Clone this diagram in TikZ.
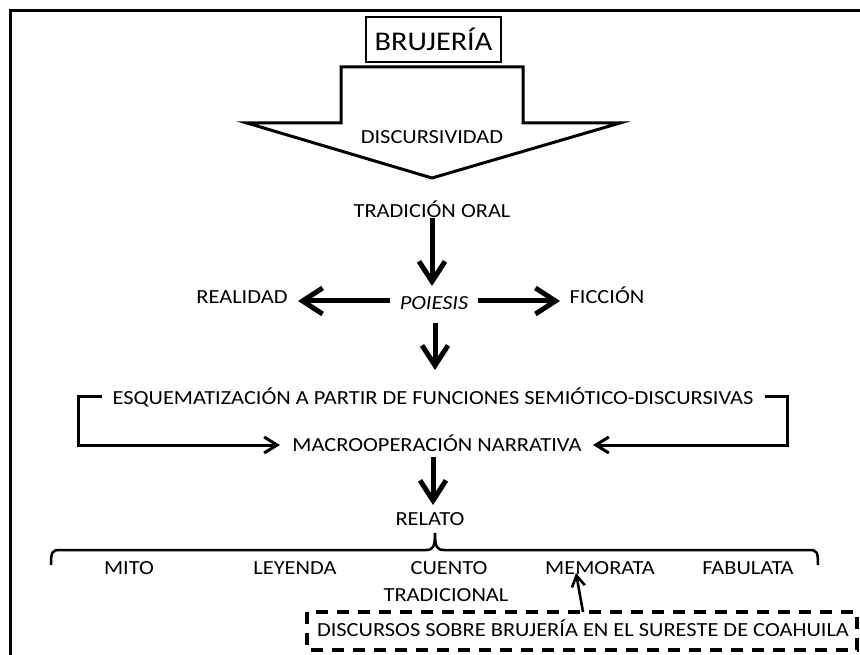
\documentclass[tikz,border=0pt]{standalone}
\usepackage{fontspec}
\setmainfont{Carlito}[FakeStretch=1.12]
\usetikzlibrary{arrows.meta}
\begin{document}
\begin{tikzpicture}[x=1pt,y=-1pt,
  txt/.style={inner sep=0pt, anchor=base, font=\fontsize{20}{24}\selectfont},
  bigarrow/.style={line width=5pt, -{Straight Barb[length=20pt,width=26pt]}},
  medarrow/.style={line width=3pt, -{Straight Barb[length=13pt,width=16pt]}},
  smallarrow/.style={line width=2.6pt, -{Straight Barb[length=11pt,width=13pt]}},
  thickline/.style={line width=3pt}
]
\useasboundingbox (0,0) rectangle (860,655);
% frame
\draw[thickline] (10.5,660) -- (10.5,10.5) -- (865,10.5);
% BRUJERIA box
\node[draw, line width=1.8pt, minimum width=135pt, minimum height=45pt, inner sep=0pt,
  font=\fontsize{27}{30}\selectfont] (bru) at (433.5,39.5) {BRUJERÍA};
% big block arrow
\draw[thickline, line join=miter] (341,67) -- (523,67) -- (523,123) -- (620,123) -- (432,178) -- (247,123) -- (341,123) -- cycle;
\node[txt] (disc) at (432,144) {DISCURSIVIDAD};
% texts
\node[txt] (trad) at (432,218) {TRADICIÓN ORAL};
\node[txt, font=\fontsize{20}{24}\selectfont\itshape] (poi) at (434,309) {POIESIS};
\node[txt] (real) at (242,304) {REALIDAD};
\node[txt] (fic) at (607,304) {FICCIÓN};
\node[txt] (esq) at (433,404) {ESQUEMATIZACIÓN A PARTIR DE FUNCIONES SEMIÓTICO-DISCURSIVAS};
\node[txt] (macro) at (437,451) {MACROOPERACIÓN NARRATIVA};
\node[txt] (relato) at (430,525) {RELATO};
\node[txt] (mito) at (129,574) {MITO};
\node[txt] (ley) at (295,574) {LEYENDA};
\node[txt] (cuento) at (449,574) {CUENTO};
\node[txt] (tradic) at (446,601) {TRADICIONAL};
\node[txt] (memo) at (600,574) {MEMORATA};
\node[txt] (fab) at (748,574) {FABULATA};
\node[txt] (dtext) at (583,636) {DISCURSOS SOBRE BRUJERÍA EN EL SURESTE DE COAHUILA};
% arrows
\draw[bigarrow] (trad.south -| 432,228) -- (432,286);
\draw[bigarrow] (poi.west |- 0,301) ++(-10,0) -- (298,301);
\draw[bigarrow] (poi.east |- 0,301) ++(10,0) -- (560,301);
\draw[bigarrow] (435,323) -- (435,370);
\draw[bigarrow] (433,457) -- (433,505);
% brackets
\coordinate (bl) at (102,396);
\coordinate (br) at (765,396);
\draw[medarrow, line join=miter] (bl) -- (78,396) -- (78,445) -- (280,445);
\draw[medarrow, line join=miter] (br) -- (787,396) -- (787,445) -- (593,445);
% brace
\draw[line width=2.5pt] (51,565) .. controls (51,552) and (52,550) .. (60,550) -- (426,550)
  .. controls (433,550) and (435,547) .. (435,533)
  .. controls (435,547) and (437,550) .. (444,550) -- (809,550)
  .. controls (817,550) and (818,552) .. (818,565);
% dashed box
\draw[line width=3.5pt, dash pattern=on 12pt off 9pt] (307,612) rectangle (857,650);
% up arrow
\draw[smallarrow] (583,612) -- (576,573);
\end{tikzpicture}
\end{document}
